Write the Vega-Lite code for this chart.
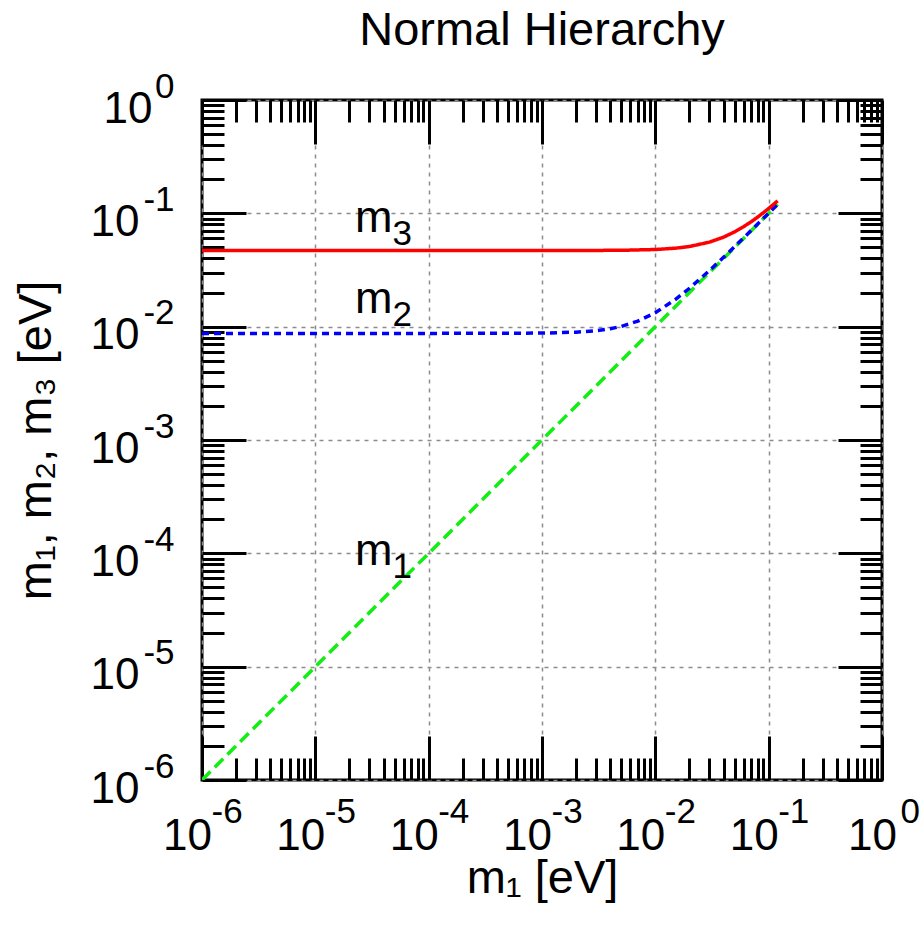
{
  "$schema": "https://vega.github.io/schema/vega-lite/v6.json",
  "width": 680,
  "height": 680,
  "autosize": {"type": "none"},
  "padding": {"left": 202, "top": 100, "right": 39, "bottom": 147},
  "background": "white",
  "config": {
    "view": {"stroke": "black", "strokeWidth": 3},
    "font": "Liberation Sans",
    "axis": {"domain": false, "tickColor": "black", "tickWidth": 3, "labelOverlap": false, "labelFlush": false, "labelFont": "Liberation Sans", "labelColor": "black", "titleFont": "Liberation Sans", "titleColor": "black", "titleFontWeight": "normal"}
  },
  "title": {"text": "Normal Hierarchy", "font": "Liberation Sans", "fontSize": 47, "fontWeight": "normal", "color": "black", "frame": "group", "anchor": "middle", "baseline": "alphabetic", "offset": -23},
  "datasets": {
    "curves": [
      {"m1": 0.000001, "mass": 0.000001, "series": "m1"},
      {"m1": 0.12, "mass": 0.12, "series": "m1"},
      {"m1": 0.000001, "mass": 0.00872, "series": "m2"},
      {"m1": 0.0001, "mass": 0.00872, "series": "m2"},
      {"m1": 0.001, "mass": 0.008775, "series": "m2"},
      {"m1": 0.002, "mass": 0.008944, "series": "m2"},
      {"m1": 0.003, "mass": 0.00922, "series": "m2"},
      {"m1": 0.004, "mass": 0.00959, "series": "m2"},
      {"m1": 0.005, "mass": 0.01005, "series": "m2"},
      {"m1": 0.007, "mass": 0.01118, "series": "m2"},
      {"m1": 0.01, "mass": 0.01327, "series": "m2"},
      {"m1": 0.015, "mass": 0.01735, "series": "m2"},
      {"m1": 0.02, "mass": 0.02182, "series": "m2"},
      {"m1": 0.03, "mass": 0.03124, "series": "m2"},
      {"m1": 0.04, "mass": 0.04094, "series": "m2"},
      {"m1": 0.05, "mass": 0.05075, "series": "m2"},
      {"m1": 0.06, "mass": 0.06063, "series": "m2"},
      {"m1": 0.08, "mass": 0.08047, "series": "m2"},
      {"m1": 0.1, "mass": 0.1004, "series": "m2"},
      {"m1": 0.12, "mass": 0.1203, "series": "m2"},
      {"m1": 0.000001, "mass": 0.0469, "series": "m3"},
      {"m1": 0.001, "mass": 0.04692, "series": "m3"},
      {"m1": 0.005, "mass": 0.04717, "series": "m3"},
      {"m1": 0.01, "mass": 0.04796, "series": "m3"},
      {"m1": 0.015, "mass": 0.04924, "series": "m3"},
      {"m1": 0.02, "mass": 0.05099, "series": "m3"},
      {"m1": 0.03, "mass": 0.05568, "series": "m3"},
      {"m1": 0.04, "mass": 0.06164, "series": "m3"},
      {"m1": 0.05, "mass": 0.06856, "series": "m3"},
      {"m1": 0.06, "mass": 0.07616, "series": "m3"},
      {"m1": 0.07, "mass": 0.08426, "series": "m3"},
      {"m1": 0.08, "mass": 0.09274, "series": "m3"},
      {"m1": 0.09, "mass": 0.10149, "series": "m3"},
      {"m1": 0.1, "mass": 0.11045, "series": "m3"},
      {"m1": 0.11, "mass": 0.11958, "series": "m3"},
      {"m1": 0.12, "mass": 0.12884, "series": "m3"}
    ],
    "labels": [
      {"x": 0.000048, "y": 0.0684, "name": "m", "sub": "3"},
      {"x": 0.000048, "y": 0.0132, "name": "m", "sub": "2"},
      {"x": 0.000048, "y": 0.0000788, "name": "m", "sub": "1"}
    ]
  },
  "data": {"name": "curves"},
  "resolve": {"axis": {"x": "independent", "y": "independent"}},
  "layer": [
    {
      "mark": {"type": "line", "strokeWidth": 3.5, "clip": true},
      "encoding": {
        "x": {"field": "m1", "type": "quantitative", "scale": {"type": "log", "domain": [0.000001, 1], "nice": false},
          "axis": {"orient": "bottom", "values": [0.000001, 0.00001, 0.0001, 0.001, 0.01, 0.1, 1], "tickSize": -44, "labels": false, "title": null, "grid": true, "gridColor": "#8c8c8c", "gridDash": [4, 5], "gridWidth": 1.5}},
        "y": {"field": "mass", "type": "quantitative", "scale": {"type": "log", "domain": [0.000001, 1], "nice": false},
          "axis": {"orient": "left", "values": [0.000001, 0.00001, 0.0001, 0.001, 0.01, 0.1, 1], "tickSize": -44, "labels": false, "title": null, "grid": true, "gridColor": "#8c8c8c", "gridDash": [4, 5], "gridWidth": 1.5}},
        "color": {"field": "series", "type": "nominal", "scale": {"domain": ["m1", "m2", "m3"], "range": ["#11ee11", "#0000ff", "#ff0000"]}, "legend": null},
        "strokeDash": {"field": "series", "type": "nominal", "scale": {"domain": ["m1", "m2", "m3"], "range": [[12, 6], [7, 5], [1, 0]]}, "legend": null}
      }
    },
    {
      "data": {"name": "labels"},
      "mark": {"type": "text", "font": "Liberation Sans", "fontSize": 45, "align": "right", "baseline": "alphabetic", "color": "black"},
      "encoding": {
        "x": {"field": "x", "type": "quantitative", "scale": {"type": "log", "domain": [0.000001, 1], "nice": false},
          "axis": {"orient": "bottom", "values": [0.000002,0.000003,0.000004,0.000005,0.000006,0.000007,0.000008,0.000009,0.00002,0.00003,0.00004,0.00005,0.00006,0.00007,0.00008,0.00009,0.0002,0.0003,0.0004,0.0005,0.0006,0.0007,0.0008,0.0009,0.002,0.003,0.004,0.005,0.006,0.007,0.008,0.009,0.02,0.03,0.04,0.05,0.06,0.07,0.08,0.09,0.2,0.3,0.4,0.5,0.6,0.7,0.8,0.9], "tickSize": -22, "labels": false, "title": null, "grid": false}},
        "y": {"field": "y", "type": "quantitative", "scale": {"type": "log", "domain": [0.000001, 1], "nice": false},
          "axis": {"orient": "left", "values": [0.000002,0.000003,0.000004,0.000005,0.000006,0.000007,0.000008,0.000009,0.00002,0.00003,0.00004,0.00005,0.00006,0.00007,0.00008,0.00009,0.0002,0.0003,0.0004,0.0005,0.0006,0.0007,0.0008,0.0009,0.002,0.003,0.004,0.005,0.006,0.007,0.008,0.009,0.02,0.03,0.04,0.05,0.06,0.07,0.08,0.09,0.2,0.3,0.4,0.5,0.6,0.7,0.8,0.9], "tickSize": -22, "labels": false, "title": null, "grid": false}},
        "text": {"field": "name"}
      }
    },
    {
      "data": {"name": "labels"},
      "mark": {"type": "text", "font": "Liberation Sans", "fontSize": 35, "align": "left", "baseline": "alphabetic", "dy": 13, "color": "black"},
      "encoding": {
        "x": {"field": "x", "type": "quantitative", "scale": {"type": "log", "domain": [0.000001, 1], "nice": false},
          "axis": {"orient": "top", "values": [0.000001, 0.00001, 0.0001, 0.001, 0.01, 0.1, 1], "tickSize": -44, "labels": false, "title": null, "grid": false}},
        "y": {"field": "y", "type": "quantitative", "scale": {"type": "log", "domain": [0.000001, 1], "nice": false},
          "axis": {"orient": "right", "values": [0.000001, 0.00001, 0.0001, 0.001, 0.01, 0.1, 1], "tickSize": -44, "labels": false, "title": null, "grid": false}},
        "text": {"field": "sub"}
      }
    },
    {
      "mark": {"type": "point", "opacity": 0},
      "encoding": {
        "x": {"field": "m1", "type": "quantitative", "scale": {"type": "log", "domain": [0.000001, 1], "nice": false},
          "axis": {"orient": "top", "values": [0.000002,0.000003,0.000004,0.000005,0.000006,0.000007,0.000008,0.000009,0.00002,0.00003,0.00004,0.00005,0.00006,0.00007,0.00008,0.00009,0.0002,0.0003,0.0004,0.0005,0.0006,0.0007,0.0008,0.0009,0.002,0.003,0.004,0.005,0.006,0.007,0.008,0.009,0.02,0.03,0.04,0.05,0.06,0.07,0.08,0.09,0.2,0.3,0.4,0.5,0.6,0.7,0.8,0.9], "tickSize": -22, "labels": false, "title": null, "grid": false}},
        "y": {"field": "mass", "type": "quantitative", "scale": {"type": "log", "domain": [0.000001, 1], "nice": false},
          "axis": {"orient": "right", "values": [0.000002,0.000003,0.000004,0.000005,0.000006,0.000007,0.000008,0.000009,0.00002,0.00003,0.00004,0.00005,0.00006,0.00007,0.00008,0.00009,0.0002,0.0003,0.0004,0.0005,0.0006,0.0007,0.0008,0.0009,0.002,0.003,0.004,0.005,0.006,0.007,0.008,0.009,0.02,0.03,0.04,0.05,0.06,0.07,0.08,0.09,0.2,0.3,0.4,0.5,0.6,0.7,0.8,0.9], "tickSize": -22, "labels": false, "title": null, "grid": false}}
      }
    },
    {
      "mark": {"type": "point", "opacity": 0},
      "encoding": {
        "x": {"field": "m1", "type": "quantitative", "scale": {"type": "log", "domain": [0.000001, 1], "nice": false},
          "axis": {"orient": "bottom", "values": [0.000001, 0.00001, 0.0001, 0.001, 0.01, 0.1, 1], "ticks": false, "grid": false, "labelExpr": "'10'", "labelFontSize": 44, "labelAlign": "center", "labelBaseline": "alphabetic", "labelPadding": 69,
            "labelOffset": {"condition": {"test": "datum.value == 1", "value": -10}, "value": -15},
            "title": "m₁ [eV]", "titleFontSize": 47, "titleX": 340, "titleY": 112, "titleAlign": "center", "titleBaseline": "alphabetic"}},
        "y": {"field": "mass", "type": "quantitative", "scale": {"type": "log", "domain": [0.000001, 1], "nice": false},
          "axis": {"orient": "left", "values": [0.000001, 0.00001, 0.0001, 0.001, 0.01, 0.1, 1], "ticks": false, "grid": false, "labelExpr": "'10'", "labelFontSize": 44, "labelAlign": "right", "labelBaseline": "alphabetic",
            "labelPadding": {"condition": {"test": "datum.value == 1", "value": 50}, "value": 63}, "labelOffset": 22,
            "title": "m₁, m₂, m₃ [eV]", "titleFontSize": 47, "titleAngle": 270, "titleX": -152, "titleY": 340, "titleAlign": "center", "titleBaseline": "alphabetic"}}
      }
    },
    {
      "mark": {"type": "point", "opacity": 0},
      "encoding": {
        "x": {"field": "m1", "type": "quantitative", "scale": {"type": "log", "domain": [0.000001, 1], "nice": false},
          "axis": {"orient": "bottom", "values": [0.000001, 0.00001, 0.0001, 0.001, 0.01, 0.1, 1], "ticks": false, "grid": false, "labelExpr": "'' + round(log(datum.value) / LN10)", "labelFontSize": 35, "labelAlign": "left", "labelBaseline": "alphabetic", "labelPadding": 42,
            "labelOffset": {"condition": {"test": "datum.value == 1", "value": 18}, "value": 9}, "title": null}},
        "y": {"field": "mass", "type": "quantitative", "scale": {"type": "log", "domain": [0.000001, 1], "nice": false},
          "axis": {"orient": "left", "values": [0.000001, 0.00001, 0.0001, 0.001, 0.01, 0.1, 1], "ticks": false, "grid": false, "labelExpr": "'' + round(log(datum.value) / LN10)", "labelFontSize": 35, "labelAlign": "right", "labelBaseline": "alphabetic", "labelPadding": 28, "labelOffset": -3, "title": null}}
      }
    }
  ]
}
